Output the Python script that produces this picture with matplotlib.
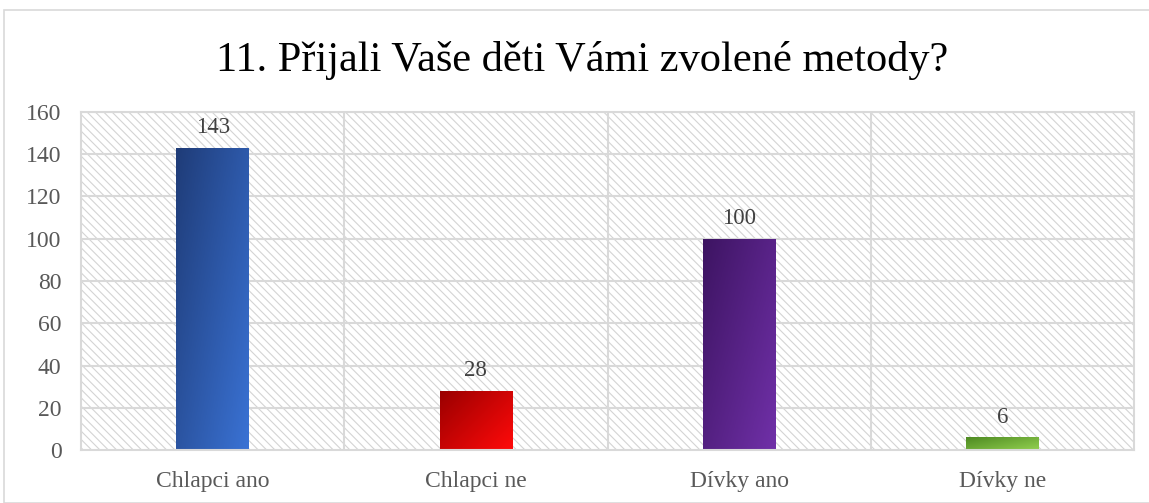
import matplotlib.pyplot as plt
import numpy as np
from matplotlib.patches import Rectangle
from matplotlib.colors import LinearSegmentedColormap

categories = ["Chlapci ano", "Chlapci ne", "Dívky ano", "Dívky ne"]
values = [143, 28, 100, 6]
title = "11. Přijali Vaše děti Vámi zvolené metody?"

# gradient ends (dark top-left -> light bottom-right) per bar
grad_colors = [
    ("#1f3c78", "#3a72d4"),
    ("#9a0000", "#ff0a0a"),
    ("#3d1462", "#7030a8"),
    ("#4e8a22", "#92d050"),
]

plt.rcParams["font.family"] = ["Liberation Serif", "DejaVu Serif"]
plt.rcParams["hatch.linewidth"] = 0.8
plt.rcParams["hatch.color"] = "#d4d4d4"

fig = plt.figure(figsize=(11.49, 5.03), dpi=100)
fig.patches.append(Rectangle((4 / 1149, 0), 1.2, (503 - 10) / 503,
                             transform=fig.transFigure, fill=False,
                             edgecolor="#d9d9d9", lw=1.2))
ax = fig.add_axes([81 / 1149, 1 - 450 / 503, (1134 - 81) / 1149, (450 - 112) / 503])

x = np.arange(len(categories))
ax.set_xlim(-0.5, len(categories) - 0.5)
ax.set_ylim(0, 160)

# hatched plot background
ax.add_patch(Rectangle((-0.5, 0), len(categories), 160, facecolor="white",
                       edgecolor="#d4d4d4", hatch="\\\\\\\\", lw=0, zorder=0))

for y in range(20, 161, 20):
    ax.axhline(y, color="#d9d9d9", lw=1.5, zorder=1)
for b in np.arange(0.5, len(categories) - 0.5, 1):
    ax.axvline(b, color="#d9d9d9", lw=1.5, zorder=1)

bars = ax.bar(x, values, width=0.275, color="none", zorder=2)
for bar, (c0, c1), v in zip(bars, grad_colors, values):
    cmap = LinearSegmentedColormap.from_list("g", [c0, c1])
    gx, gy = np.meshgrid(np.linspace(0, 1, 50), np.linspace(0, 1, 50))
    grad = 0.55 * gx + 0.45 * gy
    x0, y0 = bar.get_x(), bar.get_y()
    w, h = bar.get_width(), bar.get_height()
    im = ax.imshow(grad, cmap=cmap, extent=(x0, x0 + w, y0, y0 + h),
                   aspect="auto", origin="upper", zorder=2, vmin=0, vmax=1)
    im.set_clip_path(bar)
    ax.text(bar.get_x() + w / 2, v + 4.5, str(v), ha="center", va="bottom",
            fontsize=16.5, color="#404040", zorder=3)

ax.set_aspect("auto")
ax.set_xlim(-0.5, len(categories) - 0.5)
ax.set_ylim(0, 160)
ax.set_yticks(range(0, 161, 20))
ax.set_xticks(x)
ax.set_xticklabels(categories)
ax.tick_params(axis="both", length=0, labelsize=17, colors="#595959")
ax.tick_params(axis="x", pad=15)
ax.tick_params(axis="y", pad=14)
for s in ax.spines.values():
    s.set_color("#d9d9d9")
    s.set_linewidth(1.5)

fig.text(0.507, 1 - 60 / 503, title, ha="center", va="center", fontsize=30.5,
         color="black")

fig.savefig("out.png", dpi=100)
